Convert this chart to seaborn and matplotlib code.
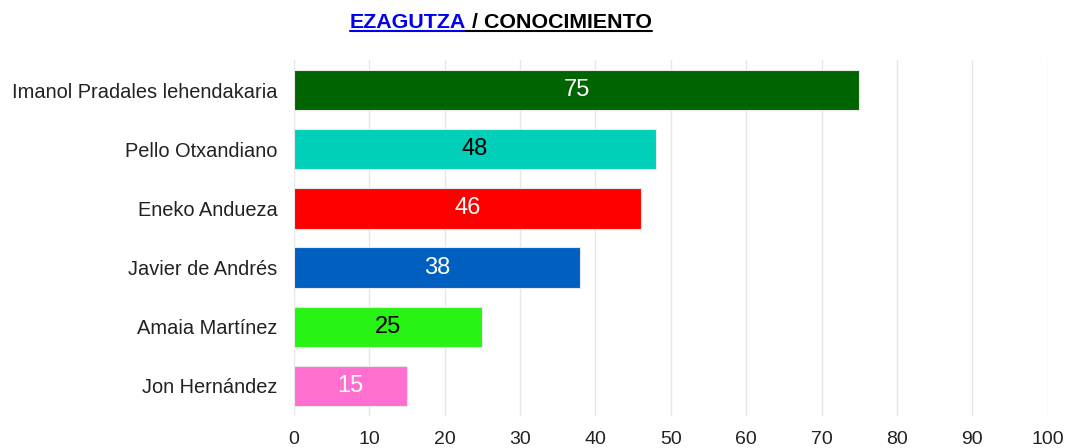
import matplotlib
matplotlib.use("Agg")
import matplotlib.pyplot as plt
import seaborn as sns
import pandas as pd
from matplotlib.lines import Line2D

candidates = ["Imanol Pradales lehendakaria", "Pello Otxandiano", "Eneko Andueza",
              "Javier de Andrés", "Amaia Martínez", "Jon Hernández"]
values = [75, 48, 46, 38, 25, 15]
colors = ["#006400", "#00CFB9", "#FF0000", "#005FBF", "#27F314", "#FF6FD0"]
label_colors = ["white", "black", "white", "white", "black", "white"]
xticks = [0, 10, 20, 30, 40, 50, 60, 70, 80, 90, 100]

sns.set_theme(style="white")
plt.rcParams['font.family'] = ['Liberation Sans', 'DejaVu Sans']

df = pd.DataFrame({"candidate": candidates, "value": values})

fig = plt.figure(figsize=(10.68, 4.48), dpi=100)
ax = fig.add_axes([0.2753, 0.0725, 0.7057, 0.7925])

sns.barplot(data=df, y="candidate", x="value", hue="candidate", palette=colors,
            orient="h", width=0.68, legend=False, ax=ax, saturation=1,
            edgecolor="#e8e8e8", linewidth=0.8, zorder=3)

ax.set_xlim(0, 100)
ax.set_xticks(xticks)
ax.set_xticklabels([str(t) for t in xticks], fontsize=14, color="#222222")
ax.tick_params(axis="x", length=0, pad=11)
ax.tick_params(axis="y", length=0, pad=12, labelsize=14.4, labelcolor="#222222")
ax.set_xlabel("")
ax.set_ylabel("")
for s in ax.spines.values():
    s.set_visible(False)
ax.grid(axis="x", color="#e6e6e6", linewidth=1, zorder=0)
ax.grid(axis="y", visible=False)
ax.set_axisbelow(True)

for i, (v, c) in enumerate(zip(values, label_colors)):
    ax.text(v / 2, i, str(v), ha="center", va="center", fontsize=17,
            color=c, zorder=5)

# Title with underline
t1 = fig.text(0.0, 0.95, "EZAGUTZA", color="#0000EE", fontsize=15.4,
              fontweight="bold", ha="left", va="center")
t2 = fig.text(0.0, 0.95, " / CONOCIMIENTO", color="black", fontsize=15.4,
              fontweight="bold", ha="left", va="center")
fig.canvas.draw()
r = fig.canvas.get_renderer()
w1 = t1.get_window_extent(r).width
w2 = t2.get_window_extent(r).width
W = fig.bbox.width
center_px = 501
start = center_px - (w1 + w2) / 2
t1.set_x(start / W)
t2.set_x((start + w1) / W)
fig.canvas.draw()
b1 = t1.get_window_extent(r)
b2 = t2.get_window_extent(r)
H = fig.bbox.height
yline = (b1.y0 + 1) / H
fig.add_artist(Line2D([b1.x0 / W, b1.x1 / W], [yline, yline], color="#0000EE",
                      linewidth=1.5, transform=fig.transFigure))
fig.add_artist(Line2D([b2.x0 / W, b2.x1 / W], [yline, yline], color="black",
                      linewidth=1.5, transform=fig.transFigure))

fig.savefig("out.png", dpi=100)
